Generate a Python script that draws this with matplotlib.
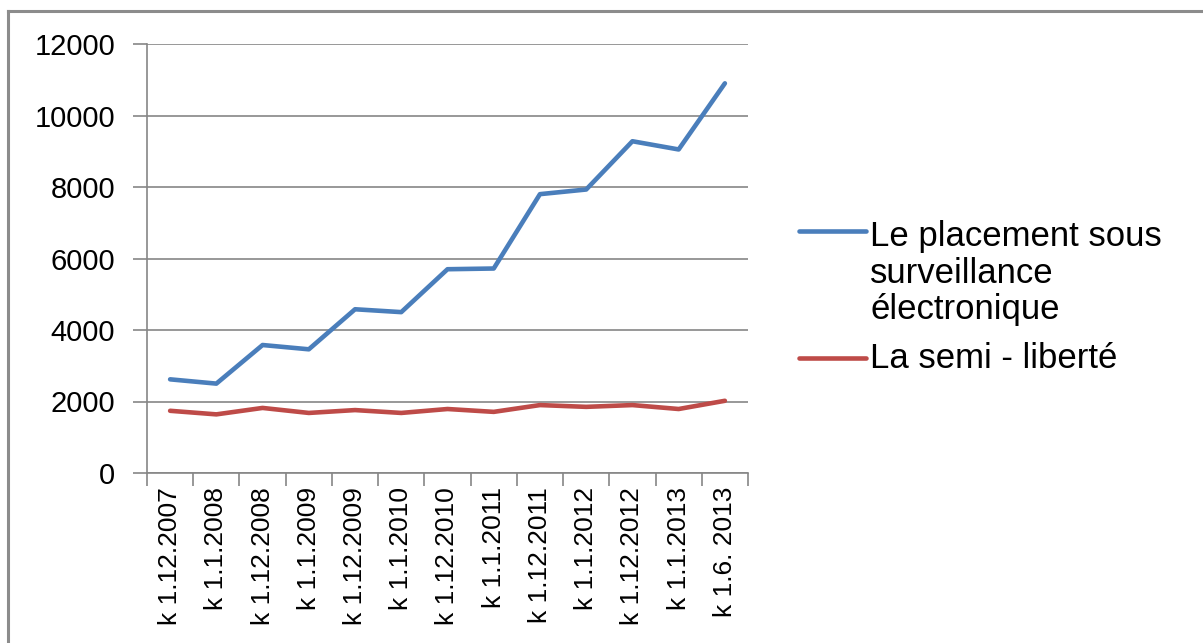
import matplotlib.pyplot as plt
from matplotlib.lines import Line2D

plt.rcParams['font.family'] = ['Liberation Sans', 'DejaVu Sans']

# data
dates = ['k 1.12.2007', 'k 1.1.2008', 'k 1.12.2008', 'k 1.1.2009', 'k 1.12.2009',
         'k 1.1.2010', 'k 1.12.2010', 'k 1.1.2011', 'k 1.12.2011', 'k 1.1.2012',
         'k 1.12.2012', 'k 1.1.2013', 'k 1.6. 2013']
surveillance = [2620, 2500, 3580, 3460, 4580, 4500, 5700, 5720, 7800, 7930, 9280, 9050, 10900]
semi_liberte = [1740, 1640, 1820, 1680, 1760, 1680, 1790, 1710, 1900, 1850, 1900, 1790, 2020]
series_names = ['Le placement sous\nsurveillance\nélectronique', 'La semi - liberté']
colors = ['#4A7EBB', '#BE4B48']
yticks = [0, 2000, 4000, 6000, 8000, 10000, 12000]

W, H = 1203, 643
fig = plt.figure(figsize=(W / 100, H / 100), dpi=100)
ax = fig.add_axes([147 / W, 1 - 473 / H, (748 - 147) / W, (473 - 44) / H])

gray = '#868686'
x = range(len(dates))
ax.plot(x, surveillance, color=colors[0], lw=3.3, solid_capstyle='round', zorder=3)
ax.plot(x, semi_liberte, color=colors[1], lw=3.3, solid_capstyle='round', zorder=3)

ax.set_xlim(-0.5, len(dates) - 0.5)
ax.set_ylim(0, 12000)
ax.set_yticks(yticks)
ax.set_yticklabels([str(v) for v in yticks], fontsize=21)
ax.grid(axis='y', color=gray, lw=1.2)
ax.set_axisbelow(True)

ax.set_xticks(list(x))
ax.set_xticklabels(dates, rotation=90, fontsize=19)
ax.set_xticks([i - 0.5 for i in range(len(dates) + 1)], minor=True)
ax.tick_params(axis='x', which='major', length=0, pad=10)
ax.tick_params(axis='x', which='minor', length=9, color=gray, width=1.2)
ax.tick_params(axis='y', length=10, color=gray, width=1.2, pad=13)

for s in ['top', 'right']:
    ax.spines[s].set_visible(False)
for s in ['left', 'bottom']:
    ax.spines[s].set_color(gray)
    ax.spines[s].set_linewidth(1.2)

# legend drawn by hand so the handle sits on the first text line
leg_y = [231, 358]
text_top = [220, 342]
for name, col, yy, tt in zip(series_names, colors, leg_y, text_top):
    fig.add_artist(Line2D([799 / W, 866 / W], [1 - yy / H, 1 - yy / H],
                          color=col, lw=3.3, solid_capstyle='round'))
    fig.text(870 / W, 1 - tt / H, name, fontsize=25, va='top', ha='left',
             linespacing=1.14)

# outer chart frame (top and left edges visible)
fig.add_artist(Line2D([8 / W, 1.0], [1 - 11 / H, 1 - 11 / H], color='#8c8c8c', lw=2.2))
fig.add_artist(Line2D([8 / W, 8 / W], [0, 1 - 11 / H], color='#8c8c8c', lw=2.2))

fig.savefig('out.png', dpi=100)
